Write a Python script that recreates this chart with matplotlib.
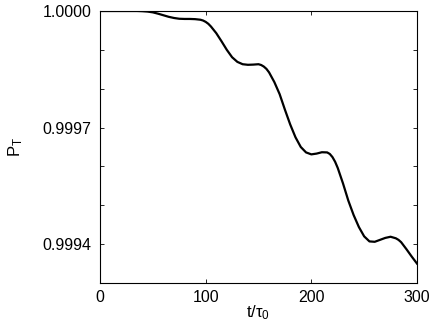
import numpy as np
import matplotlib
matplotlib.use("Agg")
import matplotlib.pyplot as plt

plt.rcParams['font.family'] = ['Liberation Sans', 'DejaVu Sans']
plt.rcParams['mathtext.fontset'] = 'custom'
plt.rcParams['mathtext.rm'] = 'Liberation Sans'
plt.rcParams['mathtext.it'] = 'Liberation Sans'

# time in units of tau_0
t = [0, 5, 10, 15, 20, 25, 30, 35, 40, 45, 50, 55, 60, 65, 70, 75, 80, 85,
     90, 95, 97.5, 100, 102.5, 105, 110, 115, 120, 125, 130, 135, 140, 145,
     150, 152.5, 155, 157.5, 160, 165, 170, 175, 180, 185, 190, 195, 200,
     205, 210, 215, 217.5, 220, 222.5, 225, 230, 235, 240, 245, 250, 255,
     260, 265, 270, 275, 280, 282.5, 285, 290, 295, 300]
# survival probability P_T
p_t = [1.000000, 1.000000, 1.000000, 1.000000, 1.000000, 1.000000,
       1.000000, 1.000000, 0.9999995, 0.9999985, 0.9999965, 0.999993,
       0.999989, 0.999985, 0.999982, 0.999980, 0.9999795, 0.9999795,
       0.999979, 0.9999775, 0.9999755, 0.999972, 0.999967, 0.999960,
       0.999943, 0.999922, 0.999900, 0.999881, 0.999869, 0.999863,
       0.9998615, 0.999862, 0.999863, 0.999861, 0.999857, 0.999851,
       0.999842, 0.999817, 0.999786, 0.999746, 0.999708, 0.999675,
       0.999650, 0.999636, 0.999631, 0.999633, 0.9996365, 0.999636,
       0.999632, 0.999624, 0.999612, 0.999596, 0.999556, 0.999512,
       0.999475, 0.999444, 0.999420, 0.999407, 0.999406, 0.999411,
       0.999416, 0.999419, 0.999415, 0.999411, 0.999405, 0.999387,
       0.999368, 0.999350]

xticks = [0, 100, 200, 300]
yticks = [0.9993, 0.9994, 0.9995, 0.9996, 0.9997, 0.9998, 0.9999, 1.0000]
ylabels = ['', '0.9994', '', '', '0.9997', '', '', '1.0000']

fig = plt.figure(figsize=(4.36, 3.27), dpi=100)
ax = fig.add_axes([0.2294, 0.1346, 0.7270, 0.8318])
ax.plot(t, p_t, color='black', linewidth=1.6)

ax.set_xlim(0, 300)
ax.set_ylim(0.9993, 1.0000)
ax.set_xticks(xticks)
ax.set_yticks(yticks)
ax.set_yticklabels(ylabels)
ax.tick_params(direction='in', top=True, right=True, labelsize=11.5,
               length=3, width=0.6)
ax.tick_params(axis='y', pad=6)
ax.tick_params(axis='x', pad=5)
for s in ax.spines.values():
    s.set_linewidth(0.8)

ax.set_xlabel(r'$\mathrm{t/\tau_0}$', fontsize=12, labelpad=-1)
ax.set_ylabel(r'$\mathrm{P_T}$', fontsize=12, labelpad=13)

fig.savefig('out.png', dpi=100)
